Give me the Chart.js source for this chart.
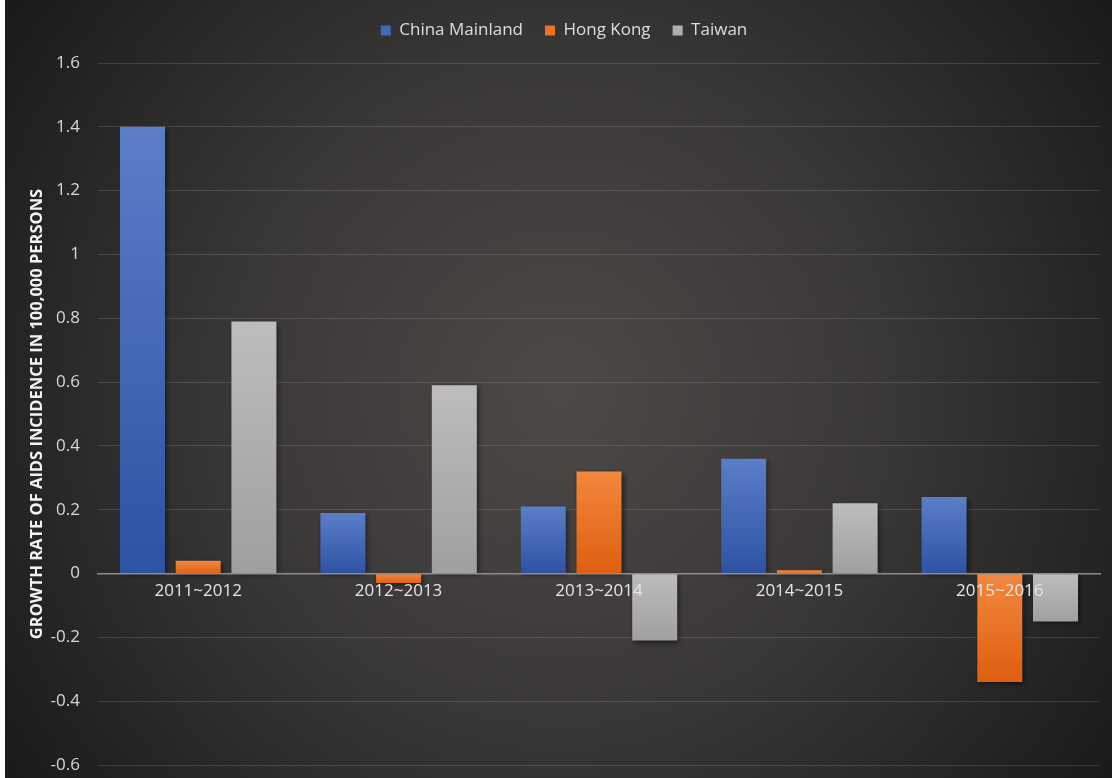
<!DOCTYPE html>
<html>
<head>
<meta charset="utf-8">
<title>Growth rate of AIDS incidence</title>
<script src="https://cdn.jsdelivr.net/npm/chart.js@4.4.0/dist/chart.umd.min.js"></script>
<style>
  html, body { margin: 0; padding: 0; background: #ffffff; }
  canvas { display: block; }
</style>
</head>
<body>
<canvas id="myChart" width="1112" height="778"></canvas>
<script>
const periods = ['2011~2012', '2012~2013', '2013~2014', '2014~2015', '2015~2016'];
const chinaMainland = [1.4, 0.19, 0.21, 0.36, 0.24];
const hongKong = [0.04, -0.03, 0.32, 0.01, -0.34];
const taiwan = [0.79, 0.59, -0.21, 0.22, -0.15];
const yMin = -0.6;
const yMax = 1.6;
const yStep = 0.2;

const FONT = "'Open Sans', sans-serif";

// vertical gradient per bar, lighter at the top edge
function barFill(top, bottom) {
    return function (context) {
        const chart = context.chart;
        if (!chart.chartArea || context.parsed === undefined) return bottom;
        const y = chart.scales.y;
        const p1 = y.getPixelForValue(context.parsed.y);
        const p0 = y.getPixelForValue(0);
        const g = chart.ctx.createLinearGradient(0, Math.min(p0, p1), 0, Math.max(p0, p1) + 1);
        g.addColorStop(0, top);
        g.addColorStop(1, bottom);
        return g;
    };
}

// dark radial backdrop with a thin white strip on the left
const backdrop = {
    id: 'backdrop',
    beforeDraw(chart) {
        const ctx = chart.ctx;
        const w = chart.width, h = chart.height;
        ctx.save();
        ctx.fillStyle = '#ffffff';
        ctx.fillRect(0, 0, w, h);
        const g = ctx.createRadialGradient(560, 390, 0, 560, 390, 720);
        g.addColorStop(0, '#4c4947');
        g.addColorStop(0.45, '#3a3837');
        g.addColorStop(1, '#161616');
        ctx.fillStyle = g;
        ctx.fillRect(5, 0, w - 5, h);
        ctx.restore();
    }
};

// soft drop shadow under the bars
const barShadow = {
    id: 'barShadow',
    beforeDatasetsDraw(chart) {
        const ctx = chart.ctx;
        ctx.save();
        ctx.shadowColor = 'rgba(0,0,0,0.55)';
        ctx.shadowBlur = 5;
        ctx.shadowOffsetX = 2;
        ctx.shadowOffsetY = 2;
    },
    afterDatasetsDraw(chart) {
        chart.ctx.restore();
    }
};

// extra room under the legend, and nudge it a little to the right
const legendGap = {
    id: 'legendGap',
    beforeInit(chart) {
        const fit = chart.legend.fit;
        chart.legend.fit = function () {
            fit.bind(chart.legend)();
            this.height += 14;
        };
    },
    afterLayout(chart) {
        chart.legend.left += 11;
        chart.legend.right += 11;
    }
};

const ctx = document.getElementById('myChart');
const myChart = new Chart(ctx, {
    type: 'bar',
    data: {
        labels: periods,
        datasets: [{
            label: 'China Mainland',
            data: chinaMainland,
            backgroundColor: barFill('#5b7ec8', '#2c52a2'),
            borderWidth: 0
        }, {
            label: 'Hong Kong',
            data: hongKong,
            backgroundColor: barFill('#f2883e', '#df5e0e'),
            borderWidth: 0
        }, {
            label: 'Taiwan',
            data: taiwan,
            backgroundColor: barFill('#bebdbc', '#a09f9e'),
            borderWidth: 0
        }]
    },
    options: {
        responsive: false,
        animation: false,
        categoryPercentage: 0.834,
        barPercentage: 0.808,
        layout: {
            padding: { top: 0, right: 12, bottom: 13, left: 6 }
        },
        plugins: {
            legend: {
                position: 'top',
                labels: {
                    boxWidth: 10,
                    boxHeight: 10,
                    padding: 22,
                    color: '#dedede',
                    font: { family: FONT, size: 17 },
                    generateLabels(chart) {
                        const solid = ['#4169b8', '#ec7224', '#b1b0af'];
                        return chart.data.datasets.map((ds, i) => ({
                            text: ds.label,
                            fillStyle: solid[i],
                            strokeStyle: solid[i],
                            lineWidth: 0,
                            fontColor: '#dedede',
                            hidden: !chart.isDatasetVisible(i),
                            datasetIndex: i
                        }));
                    }
                }
            },
            tooltip: { enabled: false }
        },
        scales: {
            x: {
                position: { y: 0 },
                grid: { display: false, drawTicks: false },
                border: { display: true, color: '#8e8c8b', width: 1.5, z: 1 },
                ticks: {
                    z: 2,
                    padding: 7,
                    color: '#e6e6e6',
                    font: { family: FONT, size: 17 }
                }
            },
            y: {
                min: yMin,
                max: yMax,
                afterFit(scale) {
                    scale.width = 92;
                    scale.paddingBottom = 0;
                },
                ticks: {
                    stepSize: yStep,
                    padding: 18,
                    color: '#d8d8d8',
                    font: { family: FONT, size: 17 },
                    callback: (v) => String(Math.round(v * 10) / 10)
                },
                grid: {
                    color: 'rgba(255,255,255,0.13)',
                    lineWidth: 1,
                    drawTicks: false
                },
                border: { display: false },
                title: {
                    display: true,
                    text: 'GROWTH RATE OF AIDS INCIDENCE IN 100,000 PERSONS',
                    color: '#f2f2f2',
                    font: { family: FONT, size: 16.5, weight: 'bold' },
                    padding: { top: 21, bottom: 0 }
                }
            }
        }
    },
    plugins: [backdrop, barShadow, legendGap]
});
</script>
</body>
</html>
